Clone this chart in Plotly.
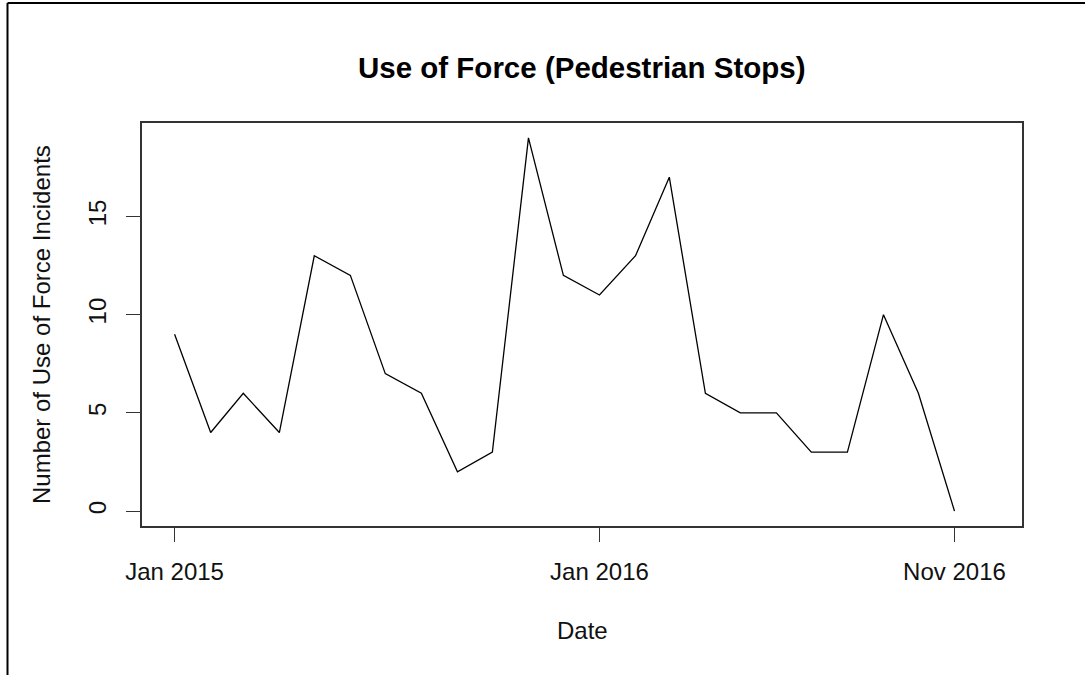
import plotly.graph_objects as go

months = ["2015-01-01", "2015-02-01", "2015-03-01", "2015-04-01", "2015-05-01", "2015-06-01",
          "2015-07-01", "2015-08-01", "2015-09-01", "2015-10-01", "2015-11-01", "2015-12-01",
          "2016-01-01", "2016-02-01", "2016-03-01", "2016-04-01", "2016-05-01", "2016-06-01",
          "2016-07-01", "2016-08-01", "2016-09-01", "2016-10-01", "2016-11-01"]
incidents = [9, 4, 6, 4, 13, 12, 7, 6, 2, 3, 19, 12, 11, 13, 17, 6, 5, 5, 3, 3, 10, 6, 0]

x_tick_vals = ["2015-01-01", "2016-01-01", "2016-11-01"]
x_tick_text = ["Jan 2015", "Jan 2016", "Nov 2016"]
y_tick_vals = [0, 5, 10, 15]

FONT = "Liberation Sans, Arial, sans-serif"

fig = go.Figure()
fig.add_trace(go.Scatter(x=months, y=incidents, mode="lines",
                         line=dict(color="black", width=1.3), showlegend=False))

axis_common = dict(showline=True, linecolor="#333", linewidth=1.5, mirror=True,
                   ticks="outside", ticklen=14, tickwidth=1.3, tickcolor="#333",
                   showgrid=False, zeroline=False,
                   tickfont=dict(family=FONT, size=24, color="#111"))

fig.update_layout(
    width=1092, height=675,
    margin=dict(l=142, r=70, t=123, b=149),
    paper_bgcolor="white", plot_bgcolor="white",
    xaxis=dict(type="date", range=["2014-12-04", "2016-12-29"],
               tickmode="array", tickvals=x_tick_vals, ticktext=x_tick_text,
               ticklabelstandoff=9, **axis_common),
    yaxis=dict(range=[-0.76, 19.76], tickmode="array", tickvals=y_tick_vals,
               tickangle=-90, ticklabelstandoff=11, **axis_common),
    annotations=[
        dict(text="<b>Use of Force (Pedestrian Stops)</b>", xref="paper", yref="paper",
             x=0.5, y=(526 - 67) / 403, xanchor="center", yanchor="middle", showarrow=False,
             font=dict(family=FONT, size=29.5, color="black")),
        dict(text="Date", xref="paper", yref="paper",
             x=0.5, y=(526 - 630) / 403, xanchor="center", yanchor="middle", showarrow=False,
             font=dict(family=FONT, size=24, color="#111")),
        dict(text="Number of Use of Force Incidents", xref="paper", yref="paper",
             x=(41 - 142) / 880, y=(526 - 325) / 403, xanchor="center", yanchor="middle",
             textangle=-90, showarrow=False,
             font=dict(family=FONT, size=24, color="#111")),
    ],
    shapes=[
        dict(type="line", xref="paper", yref="paper",
             x0=(7.5 - 142) / 880, x1=(7.5 - 142) / 880, y0=(526 - 3) / 403, y1=(526 - 680) / 403,
             line=dict(color="black", width=2)),
        dict(type="line", xref="paper", yref="paper",
             x0=(7.5 - 142) / 880, x1=(1085 - 142) / 880, y0=(526 - 3) / 403, y1=(526 - 3) / 403,
             line=dict(color="black", width=2)),
    ],
)

fig.write_html("out.html", config={"displayModeBar": False},
               post_script="document.body.style.margin='0px';")
